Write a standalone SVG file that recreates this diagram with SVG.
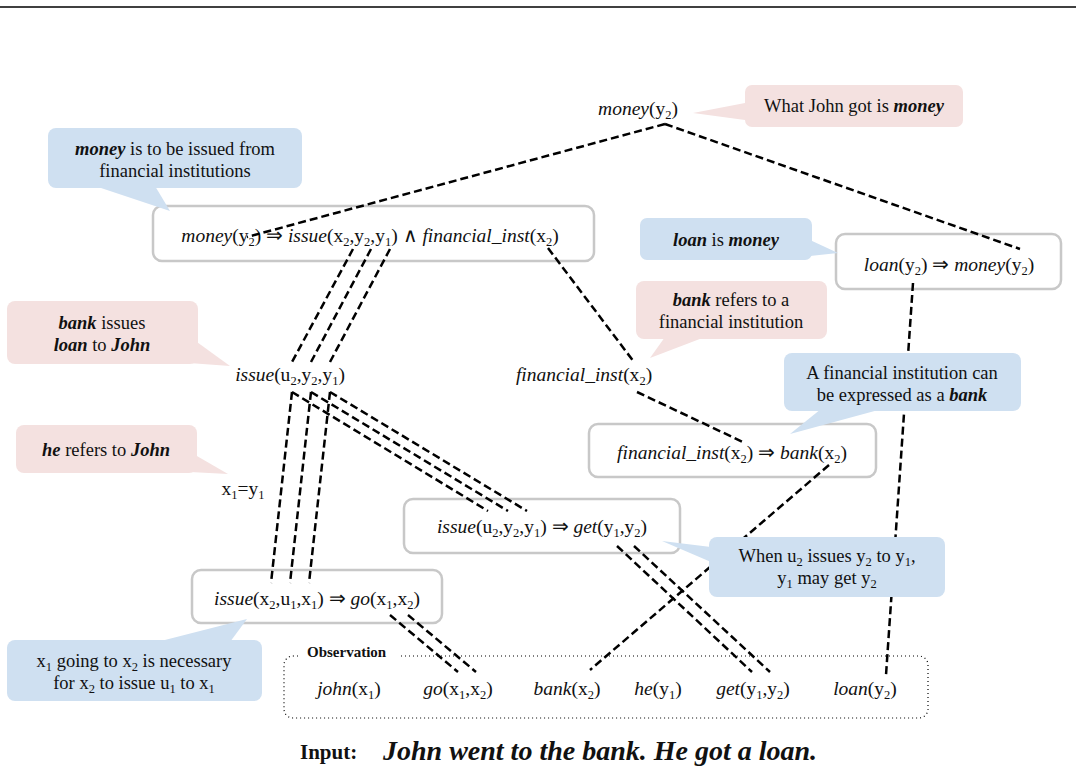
<svg xmlns="http://www.w3.org/2000/svg" width="1076" height="767" viewBox="0 0 1076 767">
<style>
text{font-family:"Liberation Serif","Times New Roman",serif;fill:#111}
.f{font-size:19.5px;text-anchor:middle}
.c{font-size:18.5px;text-anchor:middle}
.i{font-style:italic}
.b{font-weight:bold}
.bi{font-weight:bold;font-style:italic}
.s{font-size:12.5px}
.box{fill:#fff;stroke:#c8c8c8;stroke-width:2.5}
.pink{fill:#f4e1e0}
.blue{fill:#cfe0f1}
.con line{stroke:#000;stroke-width:2.5;stroke-dasharray:8 4;fill:none}
</style>
<line x1="0" y1="7" x2="1076" y2="7" stroke="#000" stroke-width="1.5"/>

<g id="box-money-issue">
<rect class="box" x="153" y="206" width="441" height="55" rx="9"/>
<text class="f" x="370" y="242"><tspan class="i">money</tspan>(y<tspan class="s" dy="4">2</tspan><tspan dy="-4">) ⇒ </tspan><tspan class="i">issue</tspan>(x<tspan class="s" dy="4">2</tspan><tspan dy="-4">,y</tspan><tspan class="s" dy="4">2</tspan><tspan dy="-4">,y</tspan><tspan class="s" dy="4">1</tspan><tspan dy="-4">) ∧ </tspan><tspan class="i">financial_inst</tspan>(x<tspan class="s" dy="4">2</tspan><tspan dy="-4">)</tspan></text>
</g>
<g id="box-loan-money">
<rect class="box" x="836" y="234" width="225" height="55" rx="9"/>
<text class="f" x="949" y="271"><tspan class="i">loan</tspan>(y<tspan class="s" dy="4">2</tspan><tspan dy="-4">) ⇒ </tspan><tspan class="i">money</tspan>(y<tspan class="s" dy="4">2</tspan><tspan dy="-4">)</tspan></text>
</g>
<g id="box-fin-bank">
<rect class="box" x="589" y="424" width="287" height="53" rx="9"/>
<text class="f" x="732" y="459"><tspan class="i">financial_inst</tspan>(x<tspan class="s" dy="4">2</tspan><tspan dy="-4">) ⇒ </tspan><tspan class="i">bank</tspan>(x<tspan class="s" dy="4">2</tspan><tspan dy="-4">)</tspan></text>
</g>
<g id="box-issue-get">
<rect class="box" x="404" y="499" width="276" height="54" rx="9"/>
<text class="f" x="542" y="533"><tspan class="i">issue</tspan>(u<tspan class="s" dy="4">2</tspan><tspan dy="-4">,y</tspan><tspan class="s" dy="4">2</tspan><tspan dy="-4">,y</tspan><tspan class="s" dy="4">1</tspan><tspan dy="-4">) ⇒ </tspan><tspan class="i">get</tspan>(y<tspan class="s" dy="4">1</tspan><tspan dy="-4">,y</tspan><tspan class="s" dy="4">2</tspan><tspan dy="-4">)</tspan></text>
</g>
<g id="box-issue-go">
<rect class="box" x="192" y="570" width="250" height="53" rx="9"/>
<text class="f" x="317" y="605"><tspan class="i">issue</tspan>(x<tspan class="s" dy="4">2</tspan><tspan dy="-4">,u</tspan><tspan class="s" dy="4">1</tspan><tspan dy="-4">,x</tspan><tspan class="s" dy="4">1</tspan><tspan dy="-4">) ⇒ </tspan><tspan class="i">go</tspan>(x<tspan class="s" dy="4">1</tspan><tspan dy="-4">,x</tspan><tspan class="s" dy="4">2</tspan><tspan dy="-4">)</tspan></text>
</g>

<g id="node-money">
<text class="f" x="638" y="115"><tspan class="i">money</tspan>(y<tspan class="s" dy="4">2</tspan><tspan dy="-4">)</tspan></text>
</g>
<g id="node-issue">
<text class="f" x="290" y="381"><tspan class="i">issue</tspan>(u<tspan class="s" dy="4">2</tspan><tspan dy="-4">,y</tspan><tspan class="s" dy="4">2</tspan><tspan dy="-4">,y</tspan><tspan class="s" dy="4">1</tspan><tspan dy="-4">)</tspan></text>
</g>
<g id="node-fin">
<text class="f" x="584" y="381"><tspan class="i">financial_inst</tspan>(x<tspan class="s" dy="4">2</tspan><tspan dy="-4">)</tspan></text>
</g>
<g id="node-eq">
<text class="f" x="243" y="495">x<tspan class="s" dy="4">1</tspan><tspan dy="-4">=y</tspan><tspan class="s" dy="4">1</tspan></text>
</g>

<g id="observation">
<rect x="284" y="656" width="644" height="62" rx="9" fill="none" stroke="#000" stroke-width="1.2" stroke-dasharray="1 3"/>
<rect x="298" y="644" width="102" height="16" fill="#fff"/>
<text x="307" y="657" font-size="15" class="b">Observation</text>
<text class="f" x="349" y="695"><tspan class="i">john</tspan>(x<tspan class="s" dy="4">1</tspan><tspan dy="-4">)</tspan></text>
<text class="f" x="458" y="695"><tspan class="i">go</tspan>(x<tspan class="s" dy="4">1</tspan><tspan dy="-4">,x</tspan><tspan class="s" dy="4">2</tspan><tspan dy="-4">)</tspan></text>
<text class="f" x="567" y="695"><tspan class="i">bank</tspan>(x<tspan class="s" dy="4">2</tspan><tspan dy="-4">)</tspan></text>
<text class="f" x="658" y="695"><tspan class="i">he</tspan>(y<tspan class="s" dy="4">1</tspan><tspan dy="-4">)</tspan></text>
<text class="f" x="753" y="695"><tspan class="i">get</tspan>(y<tspan class="s" dy="4">1</tspan><tspan dy="-4">,y</tspan><tspan class="s" dy="4">2</tspan><tspan dy="-4">)</tspan></text>
<text class="f" x="865" y="695"><tspan class="i">loan</tspan>(y<tspan class="s" dy="4">2</tspan><tspan dy="-4">)</tspan></text>
</g>

<g id="connectors" class="con">
<line x1="665" y1="124" x2="247" y2="237"/>
<line x1="665" y1="124" x2="1020" y2="249"/>
<line x1="548" y1="248" x2="634" y2="362"/>
<line x1="637" y1="392" x2="745" y2="443"/>
<line x1="829" y1="465" x2="590" y2="670"/>
<line x1="913" y1="283" x2="886" y2="675"/>
<line x1="353" y1="249" x2="292" y2="362"/>
<line x1="371" y1="249" x2="311" y2="362"/>
<line x1="390" y1="249" x2="330" y2="362"/>
<line x1="292" y1="392" x2="271" y2="583"/>
<line x1="311" y1="392" x2="290" y2="583"/>
<line x1="330" y1="392" x2="309" y2="583"/>
<line x1="292" y1="392" x2="488" y2="511"/>
<line x1="311" y1="392" x2="508" y2="511"/>
<line x1="330" y1="392" x2="527" y2="511"/>
<line x1="617" y1="546" x2="752" y2="672"/>
<line x1="634" y1="546" x2="770" y2="672"/>
<line x1="390" y1="615" x2="458" y2="672"/>
<line x1="408" y1="615" x2="476" y2="672"/>
</g>

<g id="callout-john-got">
<path class="pink" d="M745,103 L693,113 L745,120 Z"/>
<rect class="pink" x="745" y="85" width="218" height="42" rx="7"/>
<text class="c" x="854" y="112">What John got is <tspan class="bi">money</tspan></text>
</g>
<g id="callout-money-issued">
<path class="blue" d="M95,186 L170,211 L155,186 Z"/>
<rect class="blue" x="48" y="128" width="254" height="60" rx="8"/>
<text class="c" x="175" y="155"><tspan class="bi">money</tspan> is to be issued from</text>
<text class="c" x="175" y="177">financial institutions</text>
</g>
<g id="callout-loan-money">
<path class="blue" d="M810,240 L838,253 L810,256 Z"/>
<rect class="blue" x="640" y="218" width="172" height="42" rx="7"/>
<text class="c" x="726" y="246"><tspan class="bi">loan</tspan> is <tspan class="bi">money</tspan></text>
</g>
<g id="callout-bank-refers">
<path class="pink" d="M665,337 L650,358 L705,337 Z"/>
<rect class="pink" x="636" y="281" width="191" height="58" rx="8"/>
<text class="c" x="731" y="306"><tspan class="bi">bank</tspan> refers to a</text>
<text class="c" x="731" y="328">financial institution</text>
</g>
<g id="callout-fin-bank">
<path class="blue" d="M821,409 L790,434 L882,409 Z"/>
<rect class="blue" x="784" y="353" width="237" height="58" rx="8"/>
<text class="c" x="902" y="379">A financial institution can</text>
<text class="c" x="902" y="401">be expressed as a <tspan class="bi">bank</tspan></text>
</g>
<g id="callout-bank-issues">
<path class="pink" d="M190,337 L230,366 L175,362 Z"/>
<rect class="pink" x="7" y="301" width="191" height="63" rx="8"/>
<text class="c" x="102" y="329"><tspan class="bi">bank</tspan> issues</text>
<text class="c" x="102" y="351"><tspan class="bi">loan</tspan> to <tspan class="bi">John</tspan></text>
</g>
<g id="callout-he-john">
<path class="pink" d="M190,452 L228,474 L190,472 Z"/>
<rect class="pink" x="16" y="425" width="181" height="48" rx="8"/>
<text class="c" x="106" y="456"><tspan class="bi">he</tspan> refers to <tspan class="bi">John</tspan></text>
</g>
<g id="callout-issue-get">
<path class="blue" d="M711,547 L662,541 L711,562 Z"/>
<rect class="blue" x="709" y="537" width="236" height="60" rx="8"/>
<text class="c" x="827" y="562">When u<tspan class="s" dy="4">2</tspan><tspan dy="-4"> issues y</tspan><tspan class="s" dy="4">2</tspan><tspan dy="-4"> to y</tspan><tspan class="s" dy="4">1</tspan><tspan dy="-4">,</tspan></text>
<text class="c" x="827" y="584">y<tspan class="s" dy="4">1</tspan><tspan dy="-4"> may get y</tspan><tspan class="s" dy="4">2</tspan></text>
</g>
<g id="callout-issue-go">
<path class="blue" d="M157,642 L247,619 L230,642 Z"/>
<rect class="blue" x="7" y="640" width="255" height="61" rx="8"/>
<text class="c" x="134" y="667">x<tspan class="s" dy="4">1</tspan><tspan dy="-4"> going to x</tspan><tspan class="s" dy="4">2</tspan><tspan dy="-4"> is necessary</tspan></text>
<text class="c" x="134" y="689">for x<tspan class="s" dy="4">2</tspan><tspan dy="-4"> to issue u</tspan><tspan class="s" dy="4">1</tspan><tspan dy="-4"> to x</tspan><tspan class="s" dy="4">1</tspan></text>
</g>

<g id="input">
<text x="300" y="759" font-size="21" class="b">Input:</text>
<text x="383" y="760" font-size="28" class="bi">John went to the bank. He got a loan.</text>
</g>
</svg>
